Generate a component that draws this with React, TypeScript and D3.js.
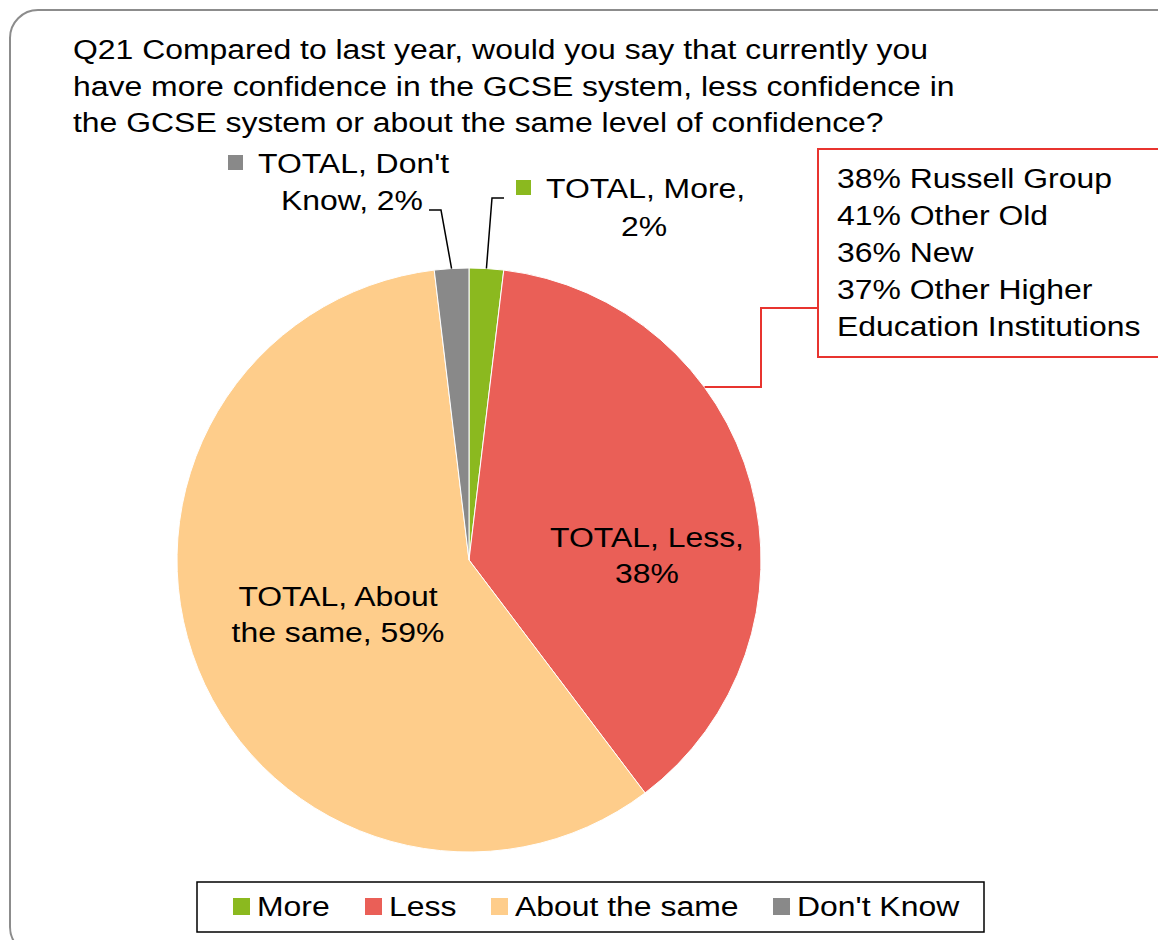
import React from "react";
import * as d3 from "d3";

const categories = ["More", "Less", "About the same", "Don't Know"];
const values = [1.9, 37.8, 58.4, 1.9];
const labelPercents = ["2%", "38%", "59%", "2%"];
const colors = ["#8BB91F", "#EA5F57", "#FECD8B", "#898989"];
const titleLines = [
  "Q21 Compared to last year, would you say that currently you",
  "have more confidence in the GCSE system, less confidence in",
  "the GCSE system or about the same level of confidence?",
];
const calloutLines = [
  "38% Russell Group",
  "41% Other Old",
  "36% New",
  "37% Other Higher",
  "Education Institutions",
];

const W = 1158;
const H = 940;
const FONT = "'Liberation Sans', Arial, sans-serif";
const SX = 1.14;

function SText(props: { x: number; y: number; anchor?: string; children: React.ReactNode; size?: number }) {
  const { x, y, anchor = "start", children, size = 28 } = props;
  return (
    <text
      transform={`translate(${x},${y}) scale(${SX},1)`}
      textAnchor={anchor}
      fontFamily={FONT}
      fontSize={size}
      fill="#000"
    >
      {children}
    </text>
  );
}

export default function App() {
  const cx = 469;
  const cy = 560;
  const r = 292;
  const pie = d3
    .pie<number>()
    .sort(null)
    .value((d) => d)
    .startAngle(0)
    .endAngle(2 * Math.PI);
  const arcs = pie(values);
  const arc = d3.arc<d3.PieArcDatum<number>>().innerRadius(0).outerRadius(r);

  const edge = (a: number, rr: number = r) => [cx + rr * Math.sin(a), cy - rr * Math.cos(a)];
  const mid = (d: d3.PieArcDatum<number>) => (d.startAngle + d.endAngle) / 2;

  const moreEdge = edge(mid(arcs[0]));
  const dkEdge = edge(mid(arcs[3]));
  const lessCallAngle = arcs[1].startAngle + (arcs[1].endAngle - arcs[1].startAngle) * 0.345;
  const lessEdge = edge(lessCallAngle);

  const legendX = [233, 365, 491, 773];

  return (
    <svg width={W} height={H} style={{ display: "block", position: "absolute", left: 0, top: 0 }}>
      <rect x={0} y={0} width={W} height={H} fill="#fff" />
      <rect x={10} y={10} width={1175} height={945} rx={28} ry={28} fill="#fff" stroke="#8c8c8c" strokeWidth={2} />
      {titleLines.map((t, i) => (
        <SText key={i} x={73} y={59 + i * 36.5}>
          {t}
        </SText>
      ))}
      <g transform={`translate(${cx},${cy})`}>
        {arcs.map((d, i) => (
          <path key={i} d={arc(d) || ""} fill={colors[i]} stroke="#fff" strokeWidth={1} />
        ))}
      </g>
      {/* leader lines */}
      <polyline
        points={`504,198 492,198 ${moreEdge[0]},${moreEdge[1]}`}
        fill="none"
        stroke="#000"
        strokeWidth={1.5}
      />
      <polyline
        points={`429,210 441,210 ${dkEdge[0]},${dkEdge[1]}`}
        fill="none"
        stroke="#000"
        strokeWidth={1.5}
      />
      <polyline
        points={`818,308 761,308 761,387 ${lessEdge[0]},387`}
        fill="none"
        stroke="#E8342F"
        strokeWidth={2}
      />
      {/* callout box */}
      <rect x={818} y={149} width={360} height={208} fill="#fff" stroke="#E8342F" strokeWidth={2} />
      {calloutLines.map((t, i) => (
        <SText key={i} x={837} y={188 + i * 37}>
          {t}
        </SText>
      ))}
      {/* data labels */}
      <rect x={516} y={180} width={15} height={15} fill={colors[0]} />
      <SText x={546} y={198}>{`TOTAL, ${categories[0]},`}</SText>
      <SText x={644} y={236} anchor="middle">
        {labelPercents[0]}
      </SText>

      <rect x={228} y={155} width={15} height={15} fill={colors[3]} />
      <SText x={258} y={173}>{`TOTAL, Don't`}</SText>
      <SText x={423} y={210} anchor="end">{`Know, ${labelPercents[3]}`}</SText>

      <SText x={647} y={547} anchor="middle">{`TOTAL, ${categories[1]},`}</SText>
      <SText x={647} y={583} anchor="middle">
        {labelPercents[1]}
      </SText>

      <SText x={338} y={606} anchor="middle">{`TOTAL, About`}</SText>
      <SText x={338} y={642} anchor="middle">{`the same, ${labelPercents[2]}`}</SText>

      {/* legend */}
      <rect x={197} y={882} width={787} height={50} fill="#fff" stroke="#000" strokeWidth={1.5} />
      {categories.map((c, i) => (
        <g key={c}>
          <rect x={legendX[i]} y={898} width={17} height={17} fill={colors[i]} />
          <SText x={legendX[i] + 24} y={916}>
            {c}
          </SText>
        </g>
      ))}
    </svg>
  );
}
